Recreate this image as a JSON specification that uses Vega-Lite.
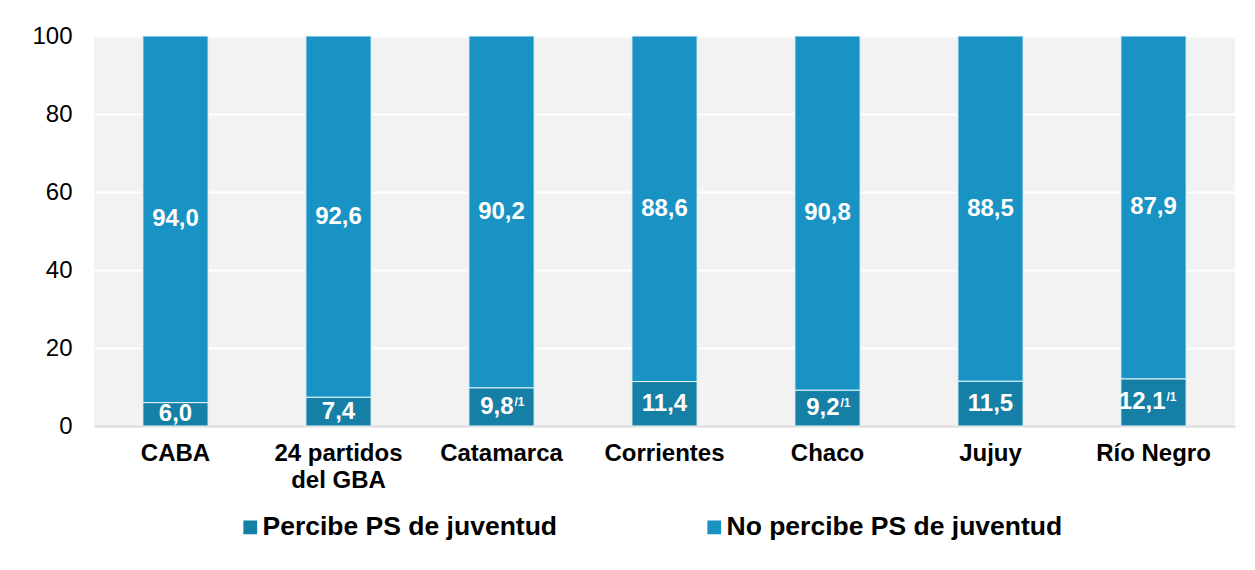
{
  "$schema": "https://vega.github.io/schema/vega-lite/v6.json",
  "width": 1141,
  "height": 390,
  "autosize": {"type": "none"},
  "padding": {"left": 94, "top": 36, "right": 20, "bottom": 144},
  "background": "white",
  "config": {
    "font": "Liberation Sans",
    "view": {"fill": "#f2f2f2", "stroke": null},
    "locale": {"number": {"decimal": ",", "thousands": ".", "grouping": [3], "currency": ["$", ""]}}
  },
  "data": {
    "values": [
      {"region": "CABA", "serie": "Percibe PS de juventud", "valor": 6.0, "nota": ""},
      {"region": "CABA", "serie": "No percibe PS de juventud", "valor": 94.0, "nota": ""},
      {"region": "24 partidos del GBA", "serie": "Percibe PS de juventud", "valor": 7.4, "nota": ""},
      {"region": "24 partidos del GBA", "serie": "No percibe PS de juventud", "valor": 92.6, "nota": ""},
      {"region": "Catamarca", "serie": "Percibe PS de juventud", "valor": 9.8, "nota": "/1"},
      {"region": "Catamarca", "serie": "No percibe PS de juventud", "valor": 90.2, "nota": ""},
      {"region": "Corrientes", "serie": "Percibe PS de juventud", "valor": 11.4, "nota": ""},
      {"region": "Corrientes", "serie": "No percibe PS de juventud", "valor": 88.6, "nota": ""},
      {"region": "Chaco", "serie": "Percibe PS de juventud", "valor": 9.2, "nota": "/1"},
      {"region": "Chaco", "serie": "No percibe PS de juventud", "valor": 90.8, "nota": ""},
      {"region": "Jujuy", "serie": "Percibe PS de juventud", "valor": 11.5, "nota": ""},
      {"region": "Jujuy", "serie": "No percibe PS de juventud", "valor": 88.5, "nota": ""},
      {"region": "Río Negro", "serie": "Percibe PS de juventud", "valor": 12.1, "nota": "/1"},
      {"region": "Río Negro", "serie": "No percibe PS de juventud", "valor": 87.9, "nota": ""}
    ]
  },
  "encoding": {
    "x": {
      "field": "region",
      "type": "nominal",
      "sort": null,
      "scale": {"paddingInner": 0.6, "paddingOuter": 0.3},
      "axis": {
        "title": null,
        "labelAngle": 0,
        "labelFontSize": 24,
        "labelFontWeight": "bold",
        "labelColor": "#000000",
        "labelPadding": 15,
        "labelLineHeight": 27,
        "labelLimit": 0,
        "labelExpr": "datum.value == '24 partidos del GBA' ? ['24 partidos', 'del GBA'] : datum.value",
        "ticks": false,
        "domainColor": "#d9d9d9",
        "domainWidth": 2,
        "grid": false
      }
    }
  },
  "layer": [
    {
      "mark": {"type": "bar", "stroke": "#e8f4fa", "strokeWidth": 1},
      "encoding": {
        "y": {
          "field": "valor",
          "type": "quantitative",
          "stack": "zero",
          "scale": {"domain": [0, 100], "nice": false},
          "axis": {
            "title": null,
            "values": [0, 20, 40, 60, 80, 100],
            "labelFontSize": 24,
            "labelColor": "#000000",
            "labelPadding": 22,
            "ticks": false,
            "domain": false,
            "gridColor": "#ffffff",
            "gridWidth": 2
          }
        },
        "color": {
          "field": "serie",
          "type": "nominal",
          "scale": {
            "domain": ["Percibe PS de juventud", "No percibe PS de juventud"],
            "range": ["#167fa5", "#1993c4"]
          },
          "legend": {
            "title": null,
            "orient": "none",
            "legendX": 143,
            "legendY": 478,
            "direction": "horizontal",
            "labelFontSize": 26.5,
            "labelFontWeight": "bold",
            "labelColor": "#000000",
            "labelLimit": 0,
            "symbolType": "square",
            "symbolSize": 190,
            "symbolStrokeWidth": 0,
            "labelOffset": -1,
            "columnPadding": 143
          }
        },
        "order": {"field": "serie", "sort": "descending"}
      }
    },
    {
      "transform": [{"filter": "datum.serie == 'Percibe PS de juventud' && datum.nota == ''"}],
      "mark": {"type": "text", "color": "#ffffff", "fontSize": 24, "fontWeight": "bold", "baseline": "middle", "align": "center", "dy": 0},
      "encoding": {
        "y": {"field": "valor", "type": "quantitative", "scale": {"domain": [0, 200], "nice": false}, "axis": null},
        "text": {"field": "valor", "type": "quantitative", "format": ".1f"}
      }
    },
    {
      "transform": [{"filter": "datum.serie == 'Percibe PS de juventud' && datum.nota != ''"}],
      "mark": {"type": "text", "color": "#ffffff", "fontSize": 24, "fontWeight": "bold", "baseline": "middle", "align": "right", "dx": 12, "dy": 0},
      "encoding": {
        "y": {"field": "valor", "type": "quantitative", "scale": {"domain": [0, 200], "nice": false}, "axis": null},
        "text": {"field": "valor", "type": "quantitative", "format": ".1f"}
      }
    },
    {
      "transform": [{"filter": "datum.serie == 'Percibe PS de juventud' && datum.nota != ''"}],
      "mark": {"type": "text", "color": "#ffffff", "fontSize": 12, "fontWeight": "bold", "baseline": "middle", "align": "left", "dx": 13, "dy": -5},
      "encoding": {
        "y": {"field": "valor", "type": "quantitative", "scale": {"domain": [0, 200], "nice": false}, "axis": null},
        "text": {"field": "nota", "type": "nominal"}
      }
    },
    {
      "transform": [{"filter": "datum.serie == 'No percibe PS de juventud'"}],
      "mark": {"type": "text", "color": "#ffffff", "fontSize": 24, "fontWeight": "bold", "baseline": "middle", "align": "center", "dy": 0},
      "encoding": {
        "y": {"field": "valor", "type": "quantitative", "scale": {"domain": [0, 200], "nice": false, "reverse": true}, "axis": null},
        "text": {"field": "valor", "type": "quantitative", "format": ".1f"}
      }
    }
  ],
  "resolve": {"scale": {"y": "independent"}}
}
